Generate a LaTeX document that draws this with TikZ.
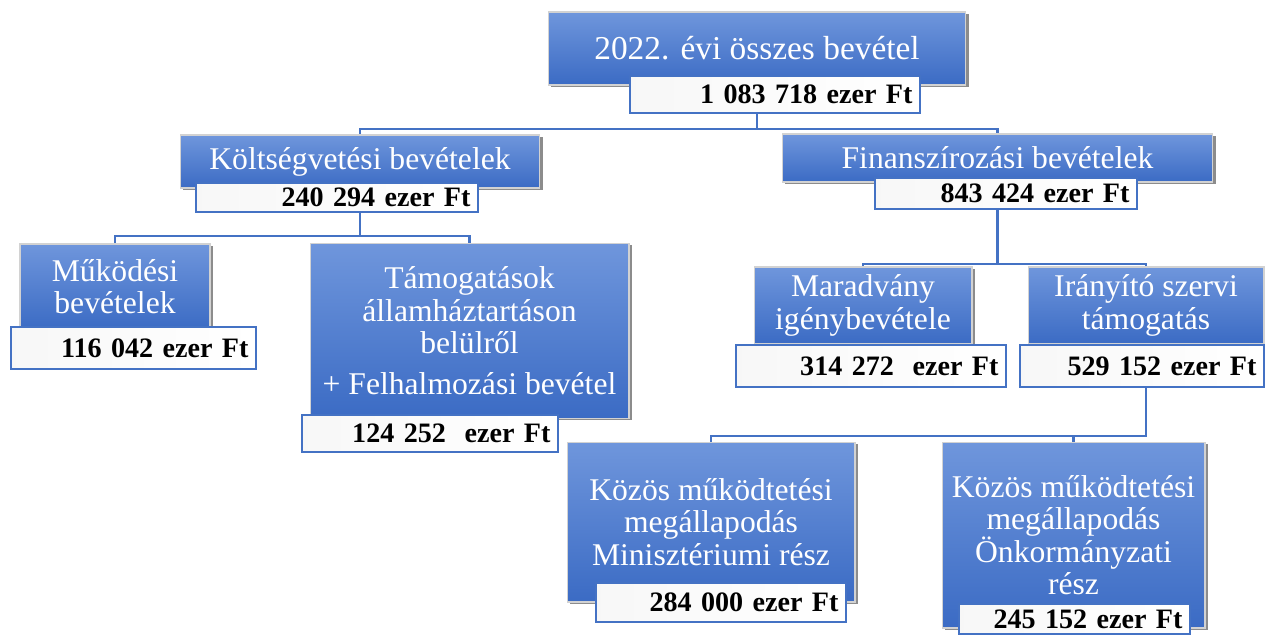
\documentclass[tikz,border=0pt]{standalone}
\usepackage{fontspec}
\setmainfont{Liberation Serif}
\usetikzlibrary{shadows}
\definecolor{boxtop}{HTML}{6F96DC}
\definecolor{boxbot}{HTML}{3B6BC4}
\definecolor{lineblue}{HTML}{4472C4}
\tikzset{
  bluebox/.style={top color=boxtop, bottom color=boxbot, draw=gray!35, line width=0.6pt,
    text=white, align=center, inner sep=0pt, font=\fontsize{18}{18.5}\selectfont,
    drop shadow={shadow xshift=1.5pt, shadow yshift=-1pt, fill=black, opacity=.45}},
  valbox/.style={draw=lineblue, left color=black!3, right color=white, line width=1.3pt,
    align=right, inner xsep=0.15cm, inner ysep=0pt, font=\bfseries\fontsize{16}{18}\selectfont},
  conn/.style={draw=lineblue, line width=1.5pt}
}
\begin{document}
\begin{tikzpicture}[x=0.02cm,y=-0.02cm]
	\useasboundingbox (0,0) rectangle (1265,637);
	% main boxes
	\node[bluebox, minimum width=8.36cm, minimum height=1.46cm, font=\fontsize{19}{21}\selectfont] (total) at (757,48.5) {2022. évi összes bevétel};
	\node[bluebox, minimum width=7.2cm, minimum height=1.06cm] (kolt) at (360,161.5) {Költségvetési bevételek};
	\node[bluebox, minimum width=8.62cm, minimum height=0.96cm] (fin) at (997.5,158) {Finanszírozási bevételek};
	\node[bluebox, minimum width=3.8cm, minimum height=1.7cm] (mukod) at (115,286.5) {Működési\\bevételek};
	\node[bluebox, minimum width=6.38cm, minimum height=3.5cm] (tamog) at (469.5,331) {Támogatások\\államháztartáson\\belülről\\[5pt]+ Felhalmozási bevétel};
	\node[bluebox, minimum width=4.36cm, minimum height=1.54cm] (marad) at (863,305.5) {Maradvány\\igénybevétele};
	\node[bluebox, minimum width=4.72cm, minimum height=1.54cm] (iranyito) at (1146,305.5) {Irányító szervi\\támogatás};
	\node[bluebox, minimum width=5.76cm, minimum height=3.2cm] (kozmin) at (711,522) {Közös működtetési\\megállapodás\\Minisztériumi rész};
	\node[bluebox, minimum width=5.26cm, minimum height=3.72cm] (kozonk) at (1073.5,535) {Közös működtetési\\megállapodás\\Önkormányzati\\rész};
	% amounts
	\node[valbox, text width=5.5cm, minimum height=0.74cm] (tv) at (775,94.5) {1 083 718 ezer Ft};
	\node[valbox, text width=5.34cm, minimum height=0.58cm] (kv) at (337,197.5) {240 294 ezer Ft};
	\node[valbox, text width=4.94cm, minimum height=0.62cm] (fv) at (1006,193.5) {843 424 ezer Ft};
	\node[valbox, text width=4.6cm, minimum height=0.84cm] (mv) at (133.5,348) {116 042 ezer Ft};
	\node[valbox, text width=4.82cm, minimum height=0.74cm] (tav) at (430,433.5) {124 252~ ezer Ft};
	\node[valbox, text width=5.1cm, minimum height=0.84cm] (mav) at (871,366) {314 272~ ezer Ft};
	\node[valbox, text width=4.58cm, minimum height=0.84cm] (iv) at (1142,366) {529 152 ezer Ft};
	\node[valbox, text width=4.7cm, minimum height=0.78cm] (kmv) at (721,602.5) {284 000 ezer Ft};
	\node[valbox, text width=4.32cm, minimum height=0.6cm] (kov) at (1074.5,619) {245 152 ezer Ft};
	% connectors
	\draw[conn] (total |- tv.south) -- ++(0,15) coordinate (j1) -| (kolt.north);
	\draw[conn] (j1) -| (fin.north);
	\draw[conn] (kolt |- kv.south) -- ++(0,23) coordinate (j2) -| (mukod.north);
	\draw[conn] (j2) -| (tamog.north);
	\draw[conn] (fin |- fv.south) -- ++(0,54) coordinate (j3) -| (marad.north);
	\draw[conn] (j3) -| (iranyito.north);
	\draw[conn] (iranyito |- iv.south) -- ++(0,48) coordinate (j4) -| (kozmin.north);
	\draw[conn] (kozonk.north) -- (kozonk.north |- j4);
\end{tikzpicture}
\end{document}
